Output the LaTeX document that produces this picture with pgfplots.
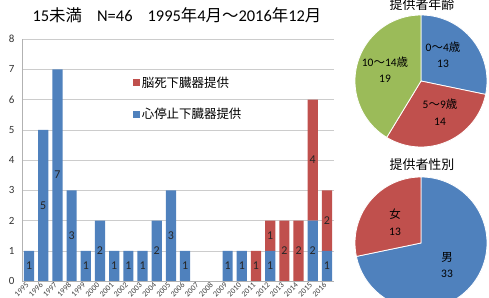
\documentclass[border=0pt]{standalone}
\usepackage{pgfplots}
\pgfplotsset{compat=1.18}
\usepackage{fontspec}
\setmainfont{Carlito}
\newfontfamily\jp{Noto Sans CJK JP}
\definecolor{cblue}{HTML}{4F81BD}
\definecolor{cred}{HTML}{C0504D}
\definecolor{cgreen}{HTML}{9BBB59}
\begin{document}
\begin{tikzpicture}
\path[use as bounding box] (0,0) rectangle (489bp,298bp);
% title
\node[font=\fontsize{16.5}{19}\selectfont, anchor=center] at (177bp,283bp)
 {15{\jp 未満}\hspace{15bp}N=46\hspace{15bp}1995{\jp 年}4{\jp 月～}2016{\jp 年}12{\jp 月}};
\begin{axis}[
 at={(22bp,17bp)}, anchor=south west, scale only axis,
 width=312bp, height=242bp,
 ybar stacked, bar width=0.72,
 xmin=-0.5, xmax=21.5, ymin=0, ymax=8,
 ytick={0,...,8}, xtick={0,...,21},
 xticklabels={1995,1996,1997,1998,1999,2000,2001,2002,2003,2004,2005,2006,2007,2008,2009,2010,2011,2012,2013,2014,2015,2016},
 xticklabel style={rotate=45, anchor=east, font=\fontsize{8}{9}\selectfont, text=black!75, yshift=-1bp},
 yticklabel style={font=\fontsize{11}{13}\selectfont, text=black!80},
 /pgf/number format/assume math mode=true,
 major tick length=0,
 ytick style={draw=none}, xtick style={draw=none},
 axis x line*=bottom, axis y line*=left,
 axis line style={black!30},
 ymajorgrids, grid style={black!20},
 y tick label style={xshift=-4bp},
 legend style={draw=none, fill=none, at={(rel axis cs:0.345,0.754)}, anchor=west,
   font=\jp\fontsize{12.5}{14}\selectfont, row sep=16bp},
 legend cell align=left, reverse legend,
 legend image code/.code={\draw[#1,draw=none] (0bp,-3.5bp) rectangle (7bp,3.5bp);},
]
\addplot[fill=cblue, draw=none] coordinates {
(0,1)(1,5)(2,7)(3,3)(4,1)(5,2)(6,1)(7,1)(8,1)(9,2)(10,3)(11,1)(12,0)(13,0)(14,1)(15,1)(16,0)(17,1)(18,0)(19,0)(20,2)(21,1)};
\addlegendentry{心停止下臓器提供}
\addplot[fill=cred, draw=none] coordinates {
(0,0)(1,0)(2,0)(3,0)(4,0)(5,0)(6,0)(7,0)(8,0)(9,0)(10,0)(11,0)(12,0)(13,0)(14,0)(15,0)(16,1)(17,1)(18,2)(19,2)(20,4)(21,2)};
\addlegendentry{脳死下臓器提供}
\end{axis}
% value labels
\begin{axis}[
 at={(22bp,17bp)}, anchor=south west, scale only axis,
 width=312bp, height=242bp,
 xmin=-0.5, xmax=21.5, ymin=0, ymax=8, hide axis, clip=false]
\addplot[draw=none, mark=none, nodes near coords, point meta=explicit symbolic,
 nodes near coords style={anchor=center, font=\fontsize{12}{14}\selectfont, text=black!85}] coordinates {
(0,0.5)[1] (1,2.5)[5] (2,3.5)[7] (3,1.5)[3] (4,0.5)[1] (5,1)[2] (6,0.5)[1] (7,0.5)[1] (8,0.5)[1] (9,1)[2] (10,1.5)[3] (11,0.5)[1] (14,0.5)[1] (15,0.5)[1] (17,0.5)[1] (20,1)[2] (21,0.5)[1]};
\addplot[draw=none, mark=none, nodes near coords, point meta=explicit symbolic,
 nodes near coords style={anchor=center, font=\fontsize{12}{14}\selectfont, text=black!85}] coordinates {
(16,0.5)[1] (17,1.5)[1] (18,1)[2] (19,1)[2] (20,4)[4] (21,2)[2]};
\end{axis}
% age pie
\node[font=\jp\fontsize{13}{15}\selectfont] at (422bp,293bp) {提供者年齢};
\begin{axis}[at={(421bp,217bp)}, anchor=center, hide axis, scale only axis,
 x=1bp, y=1bp, xmin=-70, xmax=70, ymin=-70, ymax=70, clip=false]
\pgfmathsetmacro\aA{90-13/46*360}
\pgfmathsetmacro\aB{\aA-14/46*360}
\pgfmathsetmacro\aC{\aB-19/46*360}
\fill[cblue, draw=white, line width=0.8bp] (axis cs:0,0) -- (axis cs:0,66) arc[start angle=90, end angle=\aA, radius=66bp] -- cycle;
\fill[cred, draw=white, line width=0.8bp] (axis cs:0,0) -- ++(\aA:66bp) arc[start angle=\aA, end angle=\aB, radius=66bp] -- cycle;
\fill[cgreen, draw=white, line width=0.8bp] (axis cs:0,0) -- ++(\aB:66bp) arc[start angle=\aB, end angle=\aC, radius=66bp] -- cycle;
\node[align=center, font=\fontsize{11.5}{16}\selectfont] at (axis cs:22,26) {0{\jp ～}4{\jp 歳}\\13};
\node[align=center, font=\fontsize{11.5}{17}\selectfont] at (axis cs:19,-31) {5{\jp ～}9{\jp 歳}\\14};
\node[align=center, font=\fontsize{11.5}{16}\selectfont] at (axis cs:-36,11) {10{\jp ～}14{\jp 歳}\\19};
\end{axis}
% sex pie
\node[font=\jp\fontsize{13}{15}\selectfont] at (422bp,133bp) {提供者性別};
\begin{axis}[at={(421bp,55bp)}, anchor=center, hide axis, scale only axis,
 x=1bp, y=1bp, xmin=-70, xmax=70, ymin=-70, ymax=70, clip=false]
\pgfmathsetmacro\sA{90-33/46*360}
\pgfmathsetmacro\sB{\sA-13/46*360}
\fill[cblue, draw=white, line width=0.8bp] (axis cs:0,0) -- (axis cs:0,66) arc[start angle=90, end angle=\sA, radius=66bp] -- cycle;
\fill[cred, draw=white, line width=0.8bp] (axis cs:0,0) -- ++(\sA:66bp) arc[start angle=\sA, end angle=\sB, radius=66bp] -- cycle;
\node[align=center, font=\fontsize{11.5}{17}\selectfont] at (axis cs:-26,21) {{\jp 女}\\13};
\node[align=center, font=\fontsize{11.5}{17}\selectfont] at (axis cs:26,-22) {{\jp 男}\\33};
\end{axis}
\end{tikzpicture}
\end{document}
